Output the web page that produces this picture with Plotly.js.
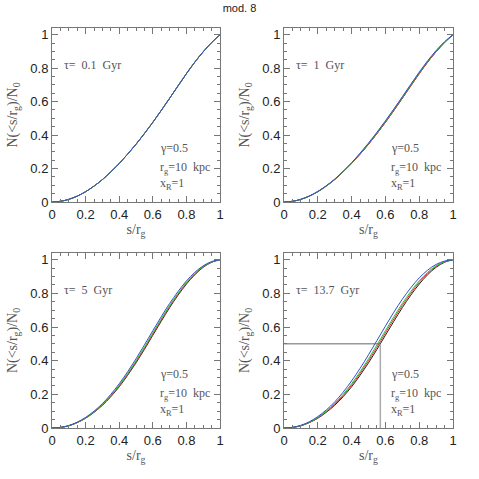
<!DOCTYPE html>
<html>
<head>
<meta charset="utf-8">
<script src="https://cdn.plot.ly/plotly-3.0.1.min.js"></script>
<style>
  html, body { margin: 0; padding: 0; background: #fff; }
  #chart { width: 479px; height: 479px; }
</style>
</head>
<body>
<div id="chart"></div>
<script>
// s/r_g grid
const sGrid = [0, 0.05, 0.1, 0.15, 0.2, 0.25, 0.3, 0.35, 0.4, 0.45, 0.5,
               0.55, 0.6, 0.65, 0.7, 0.75, 0.8, 0.85, 0.9, 0.95, 1];

// tau = 0.1 Gyr (all curves overlap)
const p1Black = [0, 0.004, 0.016, 0.035, 0.0615, 0.095, 0.134, 0.18, 0.23, 0.286, 0.345,
                 0.409, 0.476, 0.547, 0.62, 0.694, 0.767, 0.836, 0.898, 0.953, 1];
const p1Red   = p1Black;
const p1Green = p1Black;
const p1Blue  = p1Black;

// tau = 1 Gyr
const p2Black = [0, 0.004, 0.016, 0.035, 0.0615, 0.095, 0.134, 0.18, 0.23, 0.286, 0.345,
                 0.409, 0.476, 0.547, 0.62, 0.694, 0.767, 0.836, 0.898, 0.953, 1];
const p2Red   = p2Black;
const p2Green = [0, 0.004, 0.016, 0.0355, 0.062, 0.096, 0.1355, 0.182, 0.2325, 0.289, 0.3485,
                 0.413, 0.4805, 0.5515, 0.6245, 0.6985, 0.7715, 0.84, 0.9015, 0.9555, 1];
const p2Blue  = [0, 0.004, 0.016, 0.036, 0.063, 0.097, 0.137, 0.184, 0.235, 0.292, 0.352,
                 0.417, 0.485, 0.556, 0.629, 0.703, 0.776, 0.844, 0.905, 0.958, 1];

// tau = 5 Gyr
const p3Black = [0, 0.003, 0.013, 0.032, 0.058, 0.093, 0.135, 0.186, 0.245, 0.313, 0.387,
                 0.467, 0.551, 0.634, 0.715, 0.789, 0.855, 0.911, 0.955, 0.985, 1];
const p3Red   = [0, 0.003, 0.0135, 0.0325, 0.059, 0.0945, 0.1375, 0.1895, 0.2495, 0.3185, 0.393,
                 0.4735, 0.558, 0.641, 0.7215, 0.7945, 0.86, 0.9145, 0.9575, 0.986, 1];
const p3Green = [0, 0.003, 0.014, 0.033, 0.06, 0.096, 0.14, 0.193, 0.254, 0.324, 0.399,
                 0.48, 0.565, 0.648, 0.728, 0.8, 0.865, 0.918, 0.96, 0.987, 1];
const p3Blue  = [0, 0.0035, 0.0145, 0.0345, 0.063, 0.1, 0.145, 0.2, 0.263, 0.334, 0.411,
                 0.494, 0.578, 0.661, 0.74, 0.811, 0.874, 0.925, 0.964, 0.989, 1];

// tau = 13.7 Gyr
const p4Black = [0, 0.003, 0.013, 0.032, 0.058, 0.093, 0.135, 0.186, 0.245, 0.313, 0.387,
                 0.467, 0.551, 0.634, 0.715, 0.789, 0.855, 0.911, 0.955, 0.985, 1];
const p4Red   = [0, 0.003, 0.014, 0.033, 0.06, 0.096, 0.14, 0.193, 0.254, 0.324, 0.399,
                 0.48, 0.565, 0.648, 0.728, 0.8, 0.865, 0.918, 0.96, 0.987, 1];
const p4Green = [0, 0.0035, 0.0145, 0.0345, 0.063, 0.1, 0.145, 0.2, 0.263, 0.334, 0.411,
                 0.494, 0.578, 0.661, 0.74, 0.811, 0.874, 0.925, 0.964, 0.989, 1];
const p4Blue  = [0, 0.004, 0.016, 0.037, 0.068, 0.107, 0.155, 0.213, 0.28, 0.354, 0.435,
                 0.52, 0.605, 0.688, 0.765, 0.833, 0.892, 0.938, 0.972, 0.992, 1];

// half-mass guide in the last panel
const halfX = [0, 0.57];
const halfY = [0.5, 0.5];
const halfVX = [0.57, 0.57];
const halfVY = [0.5, 0];

const tauLabels = ['τ=  0.1  Gyr', 'τ=  1  Gyr', 'τ=  5  Gyr', 'τ=  13.7  Gyr'];
const paramLabels = ['γ=0.5', 'r<sub>g</sub>=10  kpc', 'x<sub>R</sub>=1'];
const panels = [
  [p1Black, p1Red, p1Green, p1Blue],
  [p2Black, p2Red, p2Green, p2Blue],
  [p3Black, p3Red, p3Green, p3Blue],
  [p4Black, p4Red, p4Green, p4Blue]
];
const lineColors = ['#222222', '#e03030', '#30c030', '#3050d0'];

const xDomains = [[0.1086, 0.4593], [0.5929, 0.9457], [0.1086, 0.4593], [0.5929, 0.9457]];
const yDomains = [[0.5783, 0.9415], [0.5783, 0.9415], [0.1065, 0.4718], [0.1065, 0.4718]];

const serif = 'Liberation Serif, Times New Roman, serif';
const sans = 'Liberation Sans, Arial, sans-serif';

const traces = [];
const layout = {
  width: 479,
  height: 479,
  margin: {l: 0, r: 0, t: 0, b: 0},
  paper_bgcolor: '#fff',
  plot_bgcolor: '#fff',
  showlegend: false,
  title: {
    text: 'mod. 8',
    font: {family: sans, size: 11, color: '#222'},
    x: 0.5, xanchor: 'center', y: 0.983, yanchor: 'middle'
  },
  annotations: []
};

panels.forEach((curves, i) => {
  const n = i + 1;
  const xa = 'x' + (n === 1 ? '' : n);
  const ya = 'y' + (n === 1 ? '' : n);
  curves.forEach((ys, k) => {
    traces.push({
      x: sGrid, y: ys, xaxis: xa, yaxis: ya,
      type: 'scatter', mode: 'lines',
      line: {color: lineColors[k], width: 1, shape: 'spline', smoothing: 1},
      hoverinfo: 'skip'
    });
  });

  const axisBase = {
    range: [0, 1],
    showgrid: false, zeroline: false,
    showline: true, linecolor: '#777', linewidth: 1, mirror: 'ticks',
    ticks: 'inside', ticklen: 6, tickcolor: '#777', tickwidth: 1,
    tickfont: {family: sans, size: 13, color: '#222'},
    minor: {dtick: 0.05, ticks: 'inside', ticklen: 3, tickcolor: '#777'}
  };
  layout['xaxis' + (n === 1 ? '' : n)] = Object.assign({}, axisBase, {
    domain: xDomains[i], anchor: ya, dtick: 0.2, tick0: 0,
    title: {text: 's/r<sub>g</sub>', font: {family: serif, size: 14, color: '#555'}, standoff: 2}
  });
  layout['yaxis' + (n === 1 ? '' : n)] = Object.assign({}, axisBase, {
    domain: yDomains[i], anchor: xa, dtick: 0.2, tick0: 0, range: [0, 1.04],
    title: {text: 'N(&lt;s/r<sub>g</sub>)/N<sub>0</sub>', font: {family: serif, size: 14, color: '#555'}, standoff: 9}
  });

  const xref = xa + ' domain';
  const yref = ya + ' domain';
  layout.annotations.push({
    text: tauLabels[i], xref, yref, x: 0.06, y: 0.79, xanchor: 'left', yanchor: 'middle',
    showarrow: false, font: {family: serif, size: 12, color: '#555'}
  });
  const py = [0.31, 0.195, 0.105];
  paramLabels.forEach((t, j) => {
    layout.annotations.push({
      text: t, xref, yref, x: i % 2 === 0 ? 0.63 : 0.62, y: py[j], xanchor: 'left', yanchor: 'middle',
      showarrow: false, font: {family: serif, size: 12, color: '#555'}
    });
  });
});

traces.push({
  x: halfX, y: halfY, xaxis: 'x4', yaxis: 'y4', type: 'scatter', mode: 'lines',
  line: {color: '#666', width: 1}, hoverinfo: 'skip'
});
traces.push({
  x: halfVX, y: halfVY, xaxis: 'x4', yaxis: 'y4', type: 'scatter', mode: 'lines',
  line: {color: '#aaa', width: 1.5}, hoverinfo: 'skip'
});

Plotly.newPlot('chart', traces, layout, {staticPlot: true});
</script>
</body>
</html>
